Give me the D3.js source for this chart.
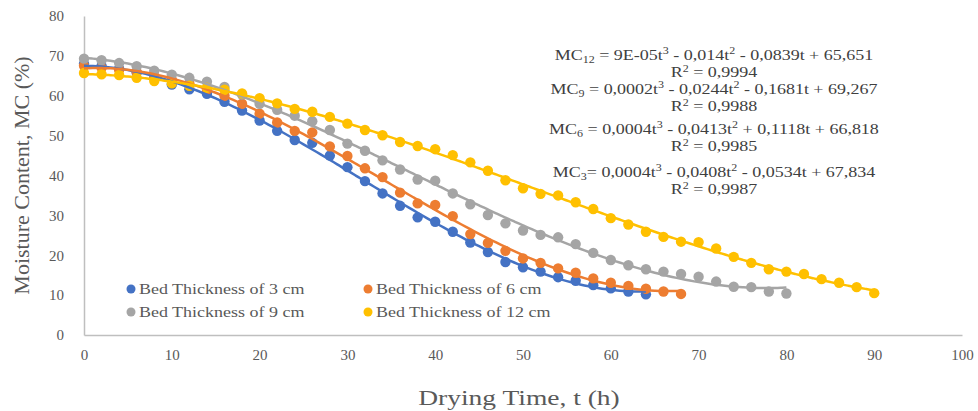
<!DOCTYPE html>
<meta charset="utf-8">
<head>
<style>
body{ margin:0; background:#fff; }
text{ font-family:"Liberation Serif","Times New Roman",serif; fill:#595959; }
.tick text{ font-size:15px; }
.axis path,.axis line{ stroke:#bfbfbf; }
.title{ font-size:22px; text-anchor:middle; }
.legend text{ font-size:15px; }
.eq{ font-size:15px; text-anchor:middle; fill:#404040; }
.trend{ fill:none; stroke-width:2.5px; }
</style>
</head>
<body>
<script src="https://d3js.org/d3.v7.min.js"></script>
<script>

// drying time in hours, one reading every 2 h
var t3  = d3.range(0, 65, 2);
var t6  = d3.range(0, 69, 2);
var t9  = d3.range(0, 81, 2);
var t12 = d3.range(0, 91, 2);

var mc3 = [68,67.5,66.8,65.8,64.5,62.8,61.6,60.5,58.5,56.3,
	53.8,51.2,48.9,48.2,45,42.1,38.6,35.5,32.4,29.5,
	28.4,25.9,23.2,20.8,18.3,17,15.9,14.5,13.6,12.5,
	11.7,10.9,10.2];
var mc6 = [67.5,67,66.5,66,65,64,63,61.5,60,58,
	55.5,53.3,51.2,50.8,47.3,44.9,41.8,39.6,35.7,33,
	32.6,29.8,25.3,23.1,21.1,19.2,18.1,16.7,15.6,14.2,
	13.1,12.3,11.6,10.9,10.3];
var mc9 = [69.3,68.9,68.2,67.4,66.3,65.3,64.5,63.5,62.2,60.3,
	58,56.5,55,53.6,51.4,48,46.2,43.8,41.5,39,
	38.7,35.5,32.8,30.1,28,26.2,25.1,24.5,22.8,20.6,
	18.8,17.5,16.5,15.9,15.3,14.6,13.4,12.1,12,10.9,
	10.4];
var mc12 = [65.7,65.4,65.2,64.5,63.7,63.1,62.5,62,61.5,60.6,
	59.4,58.1,56.7,56,54.7,53,51.4,50.1,48.4,47.4,
	46.6,45.1,43.3,41.2,38.8,36.8,35.4,35,33.3,31.6,
	29.3,27.7,25.9,24.6,23.4,23.3,21.7,19.6,18.1,16.5,
	15.9,15.3,14,13.1,12,10.5];

var names = ["Bed Thickness of 3 cm","Bed Thickness of 6 cm","Bed Thickness of 9 cm","Bed Thickness of 12 cm"];
var colors = ["#4472c4","#ed7d31","#a5a5a5","#ffc000"];
var xTicks = d3.range(0, 101, 10);
var yTicks = d3.range(0, 81, 10);

// equation labels as shown on the chart: [subscript, term, exp, term, exp, rest, R²]
var equations = [
	["12","9E-05t","3"," - 0,014t","2"," - 0,0839t + 65,651","0,9994"],
	["9","0,0002t","3"," - 0,0244t","2"," - 0,1681t + 69,267","0,9988"],
	["6","0,0004t","3"," - 0,0413t","2"," + 0,1118t + 66,818","0,9985"],
	["3","0,0004t","3"," - 0,0408t","2"," - 0,0534t + 67,834","0,9987"]
];

var series = [[t3,mc3],[t6,mc6],[t9,mc9],[t12,mc12]].map(function(s,i){
	return {name:names[i], color:colors[i], pts:s[0].map(function(t,j){ return [t, s[1][j]]; })};
});

// least squares cubic (the chart's polynomial trendline)
function cubicFit(pts){
	var n=4, A=[], b=[];
	for(var r=0;r<n;r++){ A.push([0,0,0,0]); b.push(0); }
	pts.forEach(function(p){
		var x=p[0]/100, pw=[1,x,x*x,x*x*x];
		for(var r=0;r<n;r++){
			b[r]+=pw[r]*p[1];
			for(var c=0;c<n;c++) A[r][c]+=pw[r]*pw[c];
		}
	});
	for(var k=0;k<n;k++){
		for(var r=k+1;r<n;r++){
			var f=A[r][k]/A[k][k];
			for(var c=k;c<n;c++) A[r][c]-=f*A[k][c];
			b[r]-=f*b[k];
		}
	}
	var co=[0,0,0,0];
	for(var r=n-1;r>=0;r--){
		var s=b[r];
		for(var c=r+1;c<n;c++) s-=A[r][c]*co[c];
		co[r]=s/A[r][r];
	}
	return function(t){ var x=t/100; return co[0]+co[1]*x+co[2]*x*x+co[3]*x*x*x; };
}

// the source picture is stretched sideways, so widen horizontal texts
function stretch(sel, k){
	sel.each(function(){
		var el=d3.select(this), cx=+el.attr("x")||0;
		el.attr("transform","translate("+cx+",0) scale("+k+",1) translate("+(-cx)+",0)");
	});
}

var W=978, H=411;
var m={left:84, right:16, top:16, bottom:76};

var svg = d3.select("body").append("svg").attr("width",W).attr("height",H);

var x = d3.scaleLinear().domain([0,100]).range([m.left, W-m.right]);
var y = d3.scaleLinear().domain([0,80]).range([H-m.bottom, m.top]);

svg.append("g").attr("class","axis")
	.attr("transform","translate(0,"+(H-m.bottom)+")")
	.call(d3.axisBottom(x).tickValues(xTicks).tickSize(0).tickPadding(14))
	.call(function(g){ g.select(".domain").attr("stroke-width",1.5); });

svg.append("g").attr("class","axis")
	.attr("transform","translate("+m.left+",0)")
	.call(d3.axisLeft(y).tickValues(yTicks).tickSize(0).tickPadding(20))
	.call(function(g){ g.select(".domain").attr("stroke-width",1.5); });

svg.selectAll(".axis .tick text").attr("fill","#595959");

svg.append("text").attr("class","title")
	.attr("x",x(50)-4).attr("y",H-6).text("Drying Time, t (h)")
	.call(stretch, 1.25);

svg.append("text").attr("class","title")
	.attr("transform","translate(29,"+y(40)+") rotate(-90)")
	.text("Moisture Content, MC (%)");

// markers
series.forEach(function(s){
	svg.append("g").selectAll("circle").data(s.pts).join("circle")
		.attr("cx",d=>x(d[0])).attr("cy",d=>y(d[1])).attr("r",5.2)
		.attr("fill",s.color);
});

// trendlines
var line = d3.line().x(d=>x(d[0])).y(d=>y(d[1])).curve(d3.curveBasis);
series.forEach(function(s){
	var f = cubicFit(s.pts);
	var tmax = d3.max(s.pts, d=>d[0]);
	var curve = d3.range(0, tmax+0.01, 0.5).map(t=>[t, f(t)]);
	svg.append("path").attr("class","trend")
		.attr("stroke",s.color).attr("d",line(curve));
});

// equations
var eqY = [60, 94, 134, 177];
var eqG = svg.append("g");
equations.forEach(function(e,i){
	var tx = eqG.append("text").attr("class","eq").attr("x",714).attr("y",eqY[i]);
	tx.append("tspan").text("MC");
	tx.append("tspan").attr("font-size","10px").attr("dy",3).text(e[0]);
	tx.append("tspan").attr("dy",-3).text(i==3 ? "= " : " = ");
	tx.append("tspan").text(e[1]);
	tx.append("tspan").attr("font-size","10px").attr("dy",-6).text(e[2]);
	tx.append("tspan").attr("dy",6).text(e[3]);
	tx.append("tspan").attr("font-size","10px").attr("dy",-6).text(e[4]);
	tx.append("tspan").attr("dy",6).text(e[5]);
	var r = eqG.append("text").attr("class","eq").attr("x",714).attr("y",eqY[i]+17);
	r.append("tspan").text("R");
	r.append("tspan").attr("font-size","10px").attr("dy",-5).text("2");
	r.append("tspan").attr("dy",5).text(" = "+e[6]);
});
stretch(eqG.selectAll("text"), 1.2);

// legend
var legPos = [[131,289],[368,289],[131,312],[368,312]];
var leg = svg.append("g").attr("class","legend");
series.forEach(function(s,i){
	var g = leg.append("g").attr("transform","translate("+legPos[i][0]+","+legPos[i][1]+")");
	g.append("circle").attr("r",4.5).attr("fill",s.color);
	g.append("text").attr("x",8).attr("dy","0.35em").text(s.name).call(stretch, 1.2);
});

</script>
</body>
</html>
